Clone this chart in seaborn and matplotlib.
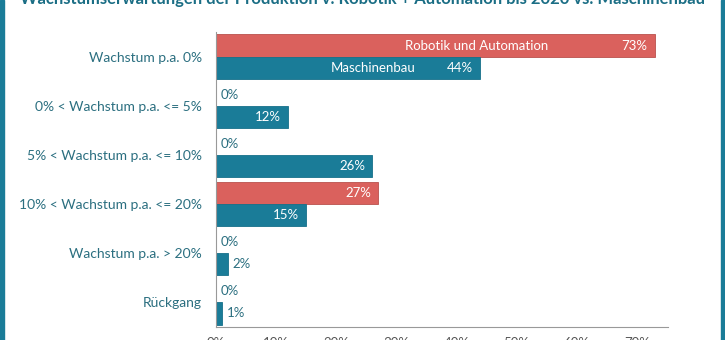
import matplotlib
matplotlib.use("Agg")
import matplotlib.pyplot as plt
import seaborn as sns
import pandas as pd
from matplotlib.patches import Rectangle

categories = ["Wachstum p.a. 0%", "0% < Wachstum p.a. <= 5%", "5% < Wachstum p.a. <= 10%",
              "10% < Wachstum p.a. <= 20%", "Wachstum p.a. > 20%", "Rückgang"]
series = ["Robotik und Automation", "Maschinenbau"]
robotik = [73, 0, 0, 27, 0, 0]
maschinenbau = [44, 12, 26, 15, 2, 1]
xticks = [0, 10, 20, 30, 40, 50, 60, 70]
title = "Wachstumserwartungen der Produktion v. Robotik + Automation bis 2020 vs. Maschinenbau"

RED = "#DA615D"
BLUE = "#1A7C98"
TEXT = "#2B6F80"

df = pd.DataFrame({
    "Kategorie": categories * 2,
    "Serie": [series[0]] * len(categories) + [series[1]] * len(categories),
    "Wert": robotik + maschinenbau,
})

sns.set_style("white")
plt.rcParams['font.family'] = ['Lato', 'DejaVu Sans']

fig = plt.figure(figsize=(7.25, 3.4), dpi=100)
ax = fig.add_axes([216/725, 13/340, (668-216)/725, (327-32)/340])

sns.barplot(data=df, y="Kategorie", x="Wert", hue="Serie", order=categories,
            hue_order=series, palette=[RED, BLUE], width=0.9, orient="h",
            saturation=1, linewidth=0.6, ax=ax, legend=False)

edge_colors = ["#B9514D", "#16708A"]
for container, sname, ec in zip(ax.containers, series, edge_colors):
    for i, bar in enumerate(container):
        bar.set_edgecolor(ec)
        v = bar.get_width()
        yc = bar.get_y() + bar.get_height() / 2
        if v >= 10:
            ax.text(v - 1.2, yc, f"{v:.0f}%", ha="right", va="center",
                    color="white", fontsize=9.5)
        else:
            ax.text(v + 0.8, yc, f"{v:.0f}%", ha="left", va="center",
                    color=TEXT, fontsize=9.5)
        if i == 0:
            ax.text(v * 0.595, yc, sname, ha="center", va="center",
                    color="white", fontsize=9.5)

ax.set_xlim(0, 75.2)
ax.set_ylim(len(categories) - 0.5, -0.5)
ax.set_xticks(xticks)
ax.set_xticklabels([f"{t}%" for t in xticks], color="#555555", fontsize=9.5)
ax.set_xlabel("")
ax.set_ylabel("")
ax.set_yticks(range(len(categories)))
ax.set_yticklabels(categories, color=TEXT, fontsize=10)
ax.set_yticks([i - 0.5 for i in range(len(categories) + 1)], minor=True)
ax.tick_params(axis="y", which="major", length=0, pad=10)
ax.tick_params(axis="y", which="minor", length=5, color="#999999", direction="out")
ax.tick_params(axis="x", which="major", length=4, color="#999999", direction="out", pad=3)
for s in ["top", "right"]:
    ax.spines[s].set_visible(False)
for s in ["left", "bottom"]:
    ax.spines[s].set_color("#999999")
    ax.spines[s].set_linewidth(0.8)

fig.text(0.5, 1 - 4/340, title, ha="center", va="baseline", color="#1B6E85",
         fontsize=12, fontweight="bold")

fig.patches.append(Rectangle((0, 0), 4/725, 1, transform=fig.transFigure,
                             color=BLUE, zorder=10))
fig.patches.append(Rectangle((721/725, 0), 4/725, 1, transform=fig.transFigure,
                             color=BLUE, zorder=10))

fig.savefig("out.png", dpi=100)
